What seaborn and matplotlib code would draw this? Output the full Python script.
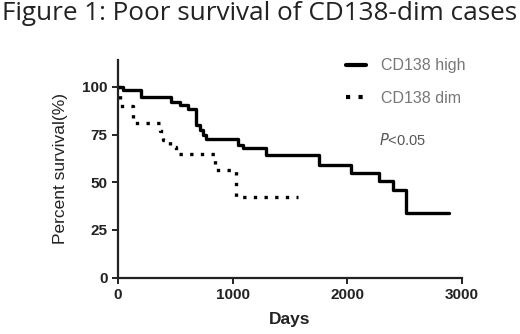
import numpy as np
import pandas as pd
import matplotlib
matplotlib.use('Agg')
import matplotlib.pyplot as plt
import seaborn as sns
from matplotlib.lines import Line2D

# Kaplan-Meier curves (day, percent survival)
high_days = [0, 44, 203, 465, 538, 610, 683, 712, 741, 770, 1046, 1090, 1293, 1758, 2035, 2282, 2398, 2514, 2892]
high_surv = [100, 98.3, 94.8, 92.2, 90.5, 88.2, 80.0, 77.4, 74.7, 72.5, 69.5, 67.8, 64.3, 59.0, 54.7, 50.6, 46.0, 33.7, 33.7]
dim_days = [0, 20, 131, 363, 392, 450, 508, 843, 1032, 1569]
dim_surv = [100, 90.0, 81.0, 77.0, 72.0, 68.4, 64.9, 56.4, 42.4, 42.4]

df = pd.concat([
    pd.DataFrame({'Days': high_days, 'surv': high_surv, 'group': 'CD138 high'}),
    pd.DataFrame({'Days': dim_days, 'surv': dim_surv, 'group': 'CD138 dim'}),
])

sns.set_style('ticks')
plt.rcParams['font.family'] = ['Liberation Sans', 'DejaVu Sans']

fig = plt.figure(figsize=(5.2, 3.34), dpi=100)
ax = fig.add_axes([0.227, 0.169, 0.661, 0.651])

sns.lineplot(data=df, x='Days', y='surv', hue='group', style='group',
             palette={'CD138 high': 'black', 'CD138 dim': 'black'},
             dashes={'CD138 high': '', 'CD138 dim': (1, 2.2)},
             drawstyle='steps-post', estimator=None, sort=False,
             linewidth=2.4, legend=False, ax=ax)

ax.set_xlim(0, 3000)
ax.set_ylim(0, 114)
ax.set_xticks([0, 1000, 2000, 3000])
ax.set_yticks([0, 25, 50, 75, 100])
sns.despine(ax=ax)
for s in ['left', 'bottom']:
    ax.spines[s].set_linewidth(1.6)
    ax.spines[s].set_color('#222222')
ax.tick_params(axis='both', length=4, width=1.4, labelsize=11, colors='#222222')
for lab in ax.get_xticklabels() + ax.get_yticklabels():
    lab.set_fontweight('bold')
ax.set_xlabel('Days', fontsize=12.5, fontweight='bold', color='#222222', labelpad=7)
ax.set_ylabel('Percent survival(%)', fontsize=12.5, color='#222222', labelpad=10)

handles = [Line2D([], [], color='black', lw=3),
           Line2D([], [], color='black', lw=3, linestyle=(0, (1, 2)))]
leg = ax.legend(handles, ['CD138 high', 'CD138 dim'], frameon=False,
                loc='upper left', bbox_to_anchor=(0.62, 1.075),
                handlelength=1.3, handletextpad=0.9, labelspacing=1.1, fontsize=11.5)
for t in leg.get_texts():
    t.set_color('#777777')

ax.text(0.76, 72, r'$\it{P}$<0.05', transform=ax.get_yaxis_transform(),
        fontsize=10.5, color='#555555', va='center')

title = fig.text(0.003, 0.96, 'Figure 1: Poor survival of CD138-dim cases',
                 fontsize=15, family=['Open Sans', 'DejaVu Sans'], color='#222222',
                 va='center', ha='left')
# stretch the title to the full width as in the original
fig.canvas.draw()
w = title.get_window_extent().width
title.set_fontsize(15 * 515 / w)

fig.savefig('out.png', dpi=100, facecolor='white')
